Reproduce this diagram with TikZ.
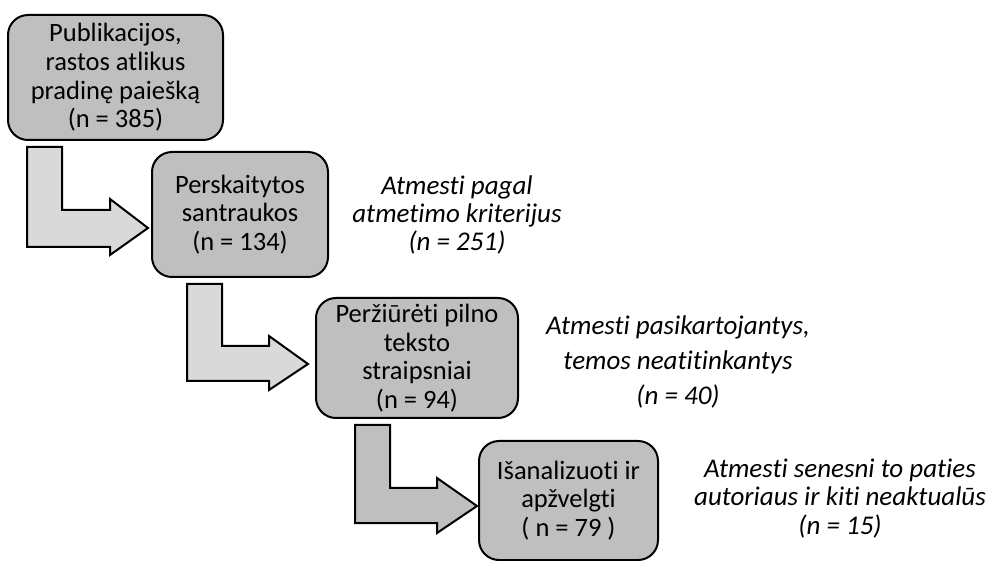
\documentclass[tikz,border=0pt]{standalone}
\usepackage{fontspec}
\setmainfont{Carlito}[Ligatures=CommonOff]
\definecolor{boxgray}{HTML}{BFBFBF}
\definecolor{lightgray2}{HTML}{D9D9D9}
\begin{document}
\begin{tikzpicture}[x=1pt,y=-1pt,
  stepbox/.style={draw=black, line width=2pt, fill=boxgray, rounded corners=20pt,
    align=center, inner sep=0pt, font=\fontsize{26.5}{28.7}\selectfont},
  note/.style={align=center, inner sep=0pt, font=\fontsize{27}{28.3}\selectfont\itshape},
  blockarrow/.style={draw=black, line width=2pt, line join=miter}]
\useasboundingbox (0,0) rectangle (989,561);
% boxes
\node[stepbox, minimum width=215pt, minimum height=125pt] (b1) at (115.5,77.5)
  {Publikacijos,\\rastos atlikus\\pradinę paiešką\\(n = 385)};
\node[stepbox, minimum width=176pt, minimum height=125pt] (b2) at (240,214.5)
  {Perskaitytos\\santraukos\\(n = 134)};
\node[stepbox, minimum width=202pt, minimum height=120pt] (b3) at (417,358)
  {Peržiūrėti pilno\\teksto\\straipsniai\\(n = 94)};
\node[stepbox, minimum width=179pt, minimum height=119pt] (b4) at (568.5,500.5)
  {Išanalizuoti ir\\apžvelgti\\( n = 79 )};
% notes
\node[note] (t1) at (457,215) {Atmesti pagal\\atmetimo kriterijus\\(n = 251)};
\node[note, font=\fontsize{27}{35}\selectfont\itshape] (t2) at (678,362)
  {Atmesti pasikartojantys,\\temos neatitinkantys\\(n = 40)};
\node[note] (t3) at (840,498.5) {Atmesti senesni to paties\\autoriaus ir kiti neaktualūs\\(n = 15)};
% block arrows
\draw[blockarrow, fill=lightgray2] (27,147) -- (62,147) -- (62,210) -- (110,210) -- (110,199)
  -- (148,228) -- (110,255) -- (110,247) -- (27,247) -- cycle;
\draw[blockarrow, fill=lightgray2] (187,284) -- (222,284) -- (222,346) -- (269,346) -- (269,336)
  -- (308,364) -- (269,390) -- (269,381) -- (187,381) -- cycle;
\draw[blockarrow, fill=boxgray] (355,425) -- (390,425) -- (390,488) -- (437,488) -- (437,478)
  -- (477,506) -- (437,533) -- (437,523) -- (355,523) -- cycle;
\end{tikzpicture}
\end{document}
